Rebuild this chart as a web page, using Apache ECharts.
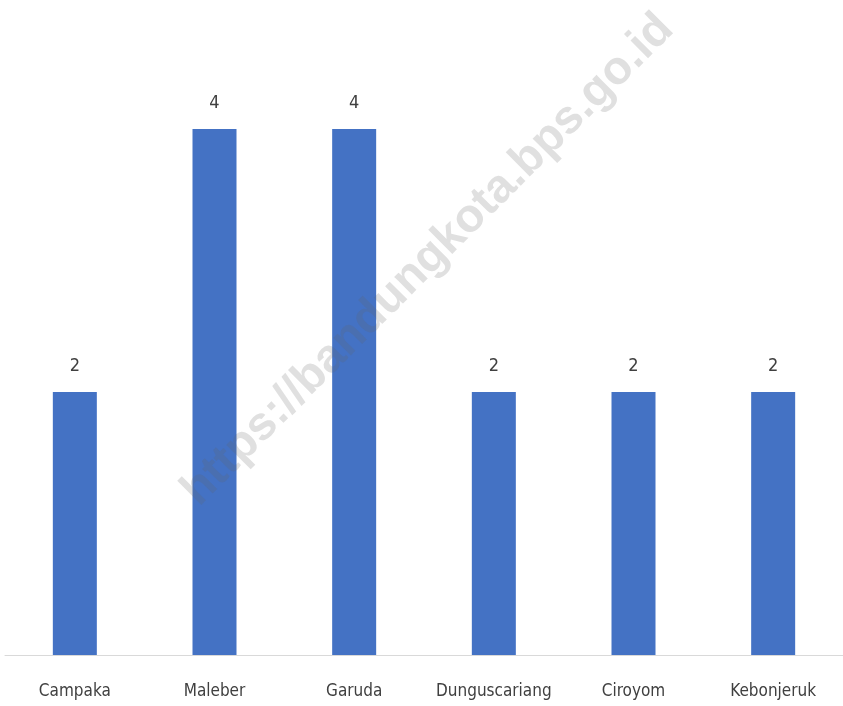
<!DOCTYPE html>
<html>
<head>
<meta charset="utf-8">
<script src="https://cdn.jsdelivr.net/npm/echarts@6/dist/echarts.min.js"></script>
<style>html,body{margin:0;padding:0;background:#fff;}#c{width:843px;height:706px;}</style>
</head>
<body>
<div id="c"></div>
<script>
const categories = ['Campaka', 'Maleber', 'Garuda', 'Dunguscariang', 'Ciroyom', 'Kebonjeruk'];
const values = [2, 4, 4, 2, 2, 2];
const watermark = 'https://bandungkota.bps.go.id';

const font = "'Liberation Sans Narrow', 'DejaVu Sans Condensed', Roboto, sans-serif";
const chart = echarts.init(document.getElementById('c'));
chart.setOption({
  animation: false,
  grid: { left: 5, right: -2, top: 129, bottom: 51, containLabel: false },
  xAxis: {
    type: 'category',
    data: categories,
    axisLine: { lineStyle: { color: '#d9d9d9', width: 1 } },
    axisTick: { show: false },
    axisLabel: { interval: 0, color: '#404040', fontFamily: font, fontSize: 17, margin: 28 }
  },
  yAxis: {
    type: 'value', min: 0, max: 4,
    show: false, splitLine: { show: false }
  },
  series: [{
    type: 'bar',
    data: values,
    barWidth: 44,
    itemStyle: { color: '#4472C4' },
    label: { show: true, position: 'top', distance: 17, color: '#404040', fontFamily: font, fontSize: 18 }
  }],
  graphic: [{
    type: 'text',
    x: 428, y: 260,
    rotation: Math.PI / 4,
    z: 100,
    style: {
      text: watermark,
      fontFamily: "'Liberation Sans', Arial, sans-serif",
      fontWeight: 'bold',
      fontSize: 47,
      fill: 'rgba(100,100,100,0.2)',
      align: 'center',
      verticalAlign: 'middle'
    }
  }]
});
</script>
</body>
</html>
